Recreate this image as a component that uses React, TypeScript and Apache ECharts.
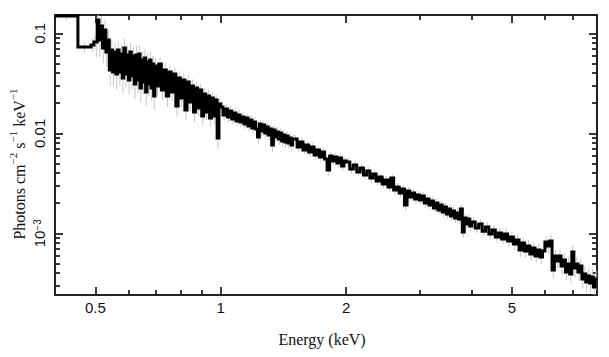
import React, { useEffect, useRef } from 'react';
import * as echarts from 'echarts';

// Bin edges (keV)
const binEdges = [
  0.4, 0.454, 0.488, 0.496,
  0.5, 0.505, 0.51, 0.515, 0.52, 0.525, 0.53, 0.535, 0.54, 0.545, 0.55, 0.555, 0.56, 0.565, 0.57, 0.575,
  0.58, 0.585, 0.59, 0.595, 0.6, 0.605, 0.61, 0.615, 0.62, 0.625, 0.63, 0.635, 0.64, 0.645, 0.65, 0.655,
  0.66, 0.665, 0.67, 0.675, 0.68, 0.685, 0.69, 0.695,
  0.7, 0.71, 0.72, 0.73, 0.74, 0.75, 0.76, 0.77, 0.78, 0.79, 0.8, 0.81, 0.82, 0.83, 0.84, 0.85, 0.86,
  0.87, 0.88, 0.89, 0.9, 0.91, 0.92, 0.93, 0.94, 0.95, 0.96, 0.97, 0.98, 0.99,
  1.0, 1.0125, 1.025, 1.0375, 1.05, 1.0625, 1.075, 1.0875, 1.1, 1.1125, 1.125, 1.1375, 1.15, 1.1625,
  1.175, 1.1875, 1.2, 1.2125, 1.225, 1.2375, 1.25, 1.2625, 1.275, 1.2875, 1.3, 1.3125, 1.325, 1.3375,
  1.35, 1.3625, 1.375, 1.3875, 1.4, 1.4125, 1.425, 1.4375, 1.45, 1.4625, 1.475, 1.4875,
  1.5, 1.525, 1.55, 1.575, 1.6, 1.625, 1.65, 1.675, 1.7, 1.725, 1.75, 1.775, 1.8, 1.825, 1.85, 1.875,
  1.9, 1.925, 1.95, 1.975,
  2.0, 2.04, 2.08, 2.12, 2.16, 2.2, 2.24, 2.28, 2.32, 2.36, 2.4, 2.44, 2.48, 2.52, 2.56, 2.6, 2.64, 2.68,
  2.72, 2.76, 2.8, 2.84, 2.88, 2.92, 2.96, 3.0, 3.04, 3.08, 3.12, 3.16, 3.2, 3.24, 3.28, 3.32, 3.36, 3.4,
  3.44, 3.48, 3.52, 3.56, 3.6, 3.64, 3.68, 3.72, 3.76, 3.8, 3.84, 3.88, 3.92, 3.96,
  4.0, 4.08, 4.16, 4.24, 4.32, 4.4, 4.48, 4.56, 4.64, 4.72, 4.8, 4.88, 4.96, 5.04, 5.12, 5.2, 5.28, 5.36,
  5.44, 5.52, 5.6, 5.68, 5.76, 5.84, 5.92, 6.0, 6.08, 6.16, 6.24, 6.32, 6.4, 6.48, 6.56, 6.64, 6.72, 6.8,
  6.88, 6.96, 7.04, 7.12, 7.2, 7.28, 7.36, 7.44, 7.52, 7.6, 7.68, 7.76, 7.84, 7.92, 8.0,
];

// Photons cm^-2 s^-1 keV^-1 per bin
const flux = [
  0.149, 0.0729, 0.0764, 0.0818,
  // 0.5 - 0.7 keV
  0.0818, 0.1358, 0.0857, 0.1183, 0.0713, 0.1079, 0.065, 0.0857, 0.0429, 0.0681,
  0.041, 0.065, 0.0391, 0.0681, 0.041, 0.0621, 0.0357, 0.0713, 0.0391, 0.0607,
  0.0341, 0.065, 0.0374, 0.0593, 0.0311, 0.0607, 0.0341, 0.0621, 0.0284, 0.0541,
  0.0326, 0.0567, 0.0259, 0.0517, 0.0311, 0.0541, 0.0284, 0.0493, 0.0236, 0.0471,
  // 0.7 - 1.0 keV
  0.0297, 0.0493, 0.0271, 0.0429, 0.0236, 0.041, 0.0259, 0.0391, 0.0188, 0.0357,
  0.0225, 0.0341, 0.0171, 0.0326, 0.0206, 0.0297, 0.0163, 0.0284, 0.0179, 0.0271,
  0.0149, 0.0247, 0.0163, 0.0236, 0.0142, 0.0225, 0.0149, 0.0215, 0.00898, 0.0196,
  // 1.0 - 1.5 keV
  0.01832, 0.01524, 0.0175, 0.01455, 0.01671, 0.0139, 0.01595, 0.01327, 0.01524, 0.01297,
  0.01455, 0.01238, 0.01423, 0.01183, 0.01358, 0.0113, 0.01297, 0.01104, 0.00918, 0.01238,
  0.01054, 0.0121, 0.01007, 0.01156, 0.00961, 0.01104, 0.00764, 0.01079, 0.00918, 0.0103,
  0.00877, 0.01007, 0.00837, 0.00961, 0.00818, 0.0094, 0.008, 0.00898, 0.00764, 0.00877,
  // 1.5 - 2.0 keV
  0.00877, 0.00729, 0.00818, 0.00681, 0.00764, 0.0065, 0.00729, 0.00607, 0.00681, 0.0058,
  0.0065, 0.00554, 0.00429, 0.00593, 0.00529, 0.0058, 0.00505, 0.00567, 0.00471, 0.00529,
  // 2.0 - 4.0 keV
  0.00517, 0.0044, 0.00482, 0.0041, 0.0045, 0.00382, 0.00419, 0.00357, 0.00391, 0.00333,
  0.00365, 0.00311, 0.00341, 0.0029, 0.00357, 0.00271, 0.0029, 0.00253, 0.00277, 0.00192,
  0.00265, 0.00231, 0.00253, 0.0022, 0.00241, 0.00215, 0.00236, 0.00201, 0.0022, 0.00192,
  0.0021, 0.00179, 0.00201, 0.00171, 0.00192, 0.00163, 0.00183, 0.00156, 0.00175, 0.00149,
  0.00167, 0.00142, 0.0016, 0.00139, 0.00175, 0.00103, 0.00142, 0.00124, 0.00139, 0.00118,
  // 4.0 - 8.0 keV
  0.0013, 0.00113, 0.00124, 0.00105, 0.001156, 0.000984, 0.001079, 0.000918, 0.001007, 0.000877,
  0.000984, 0.000837, 0.000918, 0.000782, 0.000857, 0.000681, 0.0008, 0.000665, 0.000746, 0.000621,
  0.000713, 0.000593, 0.000681, 0.00058, 0.000665, 0.000818, 0.000746, 0.000837, 0.000429, 0.000593,
  0.000529, 0.000593, 0.000471, 0.000541, 0.00041, 0.000493, 0.000391, 0.00065, 0.00045, 0.000493,
  0.00041, 0.000471, 0.000349, 0.000391, 0.000326, 0.000374, 0.000318, 0.000365, 0.00029, 0.000349,
];

// fractional 1-sigma errors per bin
const fracErr = [
  0.1, 0.12, 0.15, 0.15,
  0.3, 0.28, 0.32, 0.26, 0.3, 0.27, 0.29, 0.25, 0.31, 0.26,
  0.28, 0.25, 0.3, 0.24, 0.27, 0.25, 0.29, 0.23, 0.27, 0.24,
  0.28, 0.23, 0.26, 0.24, 0.29, 0.23, 0.26, 0.22, 0.28, 0.23,
  0.25, 0.22, 0.27, 0.22, 0.25, 0.22, 0.26, 0.21, 0.27, 0.22,
  0.2, 0.18, 0.21, 0.18, 0.22, 0.17, 0.2, 0.17, 0.22, 0.17,
  0.19, 0.16, 0.21, 0.16, 0.19, 0.16, 0.2, 0.15, 0.18, 0.15,
  0.19, 0.15, 0.17, 0.15, 0.18, 0.14, 0.17, 0.14, 0.22, 0.14,
  0.13, 0.12, 0.14, 0.12, 0.13, 0.12, 0.13, 0.11, 0.13, 0.12,
  0.13, 0.11, 0.12, 0.11, 0.12, 0.11, 0.12, 0.11, 0.14, 0.11,
  0.12, 0.11, 0.12, 0.11, 0.12, 0.11, 0.14, 0.11, 0.12, 0.11,
  0.12, 0.11, 0.12, 0.11, 0.12, 0.11, 0.12, 0.11, 0.12, 0.11,
  0.1, 0.1, 0.1, 0.1, 0.1, 0.1, 0.1, 0.1, 0.1, 0.1,
  0.1, 0.1, 0.12, 0.1, 0.1, 0.1, 0.1, 0.1, 0.1, 0.1,
  0.1, 0.1, 0.1, 0.1, 0.1, 0.1, 0.1, 0.1, 0.1, 0.1,
  0.1, 0.1, 0.1, 0.1, 0.1, 0.1, 0.1, 0.1, 0.1, 0.12,
  0.1, 0.1, 0.1, 0.1, 0.1, 0.1, 0.1, 0.1, 0.1, 0.1,
  0.1, 0.1, 0.1, 0.1, 0.1, 0.11, 0.1, 0.11, 0.1, 0.11,
  0.11, 0.11, 0.11, 0.11, 0.11, 0.13, 0.11, 0.11, 0.11, 0.11,
  0.11, 0.11, 0.11, 0.11, 0.12, 0.12, 0.12, 0.12, 0.12, 0.12,
  0.13, 0.13, 0.13, 0.13, 0.13, 0.14, 0.14, 0.14, 0.14, 0.14,
  0.15, 0.15, 0.15, 0.15, 0.15, 0.15, 0.16, 0.16, 0.17, 0.16,
  0.17, 0.17, 0.18, 0.17, 0.18, 0.18, 0.19, 0.17, 0.19, 0.19,
  0.19, 0.19, 0.2, 0.2, 0.21, 0.2, 0.21, 0.21, 0.22, 0.22,
];

const xRange = [0.4, 8];
const yRange = [2.415e-4, 0.1524];
const xMajorTicks = [0.5, 1, 2, 5];
const xMinorTicks = [0.6, 0.7, 0.8, 0.9, 3, 4, 6, 7];
const yMajorTicks = [0.1, 0.01, 0.001];
const yMinorTicks = [
  0.0003, 0.0004, 0.0005, 0.0006, 0.0007, 0.0008, 0.0009,
  0.002, 0.003, 0.004, 0.005, 0.006, 0.007, 0.008, 0.009,
  0.02, 0.03, 0.04, 0.05, 0.06, 0.07, 0.08, 0.09,
];
const xTitle = 'Energy (keV)';
const yTitleRich = '{t|Photons cm}{s|−2}{t| s}{s|−1}{t| keV}{s|−1}';

const L = Math.log10;
const FRAME = '#222';
const SANS = '"Liberation Sans", Arial, sans-serif';
const SERIF = '"Liberation Serif", "Times New Roman", serif';
const MAJOR_LEN = 8;
const MINOR_LEN = 5;

function fmtX(v: number) {
  return String(Number(Math.pow(10, v).toPrecision(6)));
}
function fmtY(v: number) {
  if (Math.abs(v + 3) < 1e-6) return '{b|10}{s|−3}';
  return String(Number(Math.pow(10, v).toPrecision(6)));
}

export default function App() {
  const ref = useRef<HTMLDivElement>(null);
  useEffect(() => {
    if (!ref.current) return;
    const chart = echarts.init(ref.current, undefined, { renderer: 'svg' });
    const n = Math.min(flux.length, binEdges.length - 1);
    const stepData: number[][] = [];
    const errData: number[][] = [];
    for (let i = 0; i < n; i++) {
      const lo = L(binEdges[i]);
      const hi = L(binEdges[i + 1]);
      const lv = L(flux[i]);
      stepData.push([lo, lv], [hi, lv]);
      const e = fracErr[i] ?? 0.12;
      errData.push([(lo + hi) / 2, L(flux[i] * (1 - e)), L(flux[i] * (1 + e))]);
    }
    const xMin = L(xRange[0]);
    const xMax = L(xRange[1]);
    const yMin = L(yRange[0]);
    const yMax = L(yRange[1]);

    const tickLine = { color: FRAME, width: 1.8 };
    // every side: a major-tick axis (carrying the frame line) and a minor-tick axis
    const xAxisOf = (position: string, ticks: number[], len: number, frame: boolean, labels: boolean) => ({
      type: 'value',
      position,
      min: xMin,
      max: xMax,
      axisLine: { show: frame, onZero: false, lineStyle: { color: FRAME, width: 2 } },
      axisTick: { show: true, inside: true, length: len, customValues: ticks.map(L), lineStyle: tickLine },
      axisLabel: labels
        ? { show: true, customValues: ticks.map(L), formatter: fmtX, margin: 5, fontFamily: SANS, fontSize: 15, color: '#111' }
        : { show: false },
      splitLine: { show: false },
    });
    const yAxisOf = (position: string, ticks: number[], len: number, frame: boolean, labels: boolean) => ({
      type: 'value',
      position,
      min: yMin,
      max: yMax,
      axisLine: { show: frame, onZero: false, lineStyle: { color: FRAME, width: 2 } },
      axisTick: { show: true, inside: true, length: len, customValues: ticks.map(L), lineStyle: tickLine },
      axisLabel: labels
        ? {
            show: true,
            customValues: ticks.map(L),
            formatter: fmtY,
            rotate: 90,
            margin: 8,
            fontFamily: SANS,
            fontSize: 15,
            color: '#111',
            rich: {
              b: { fontFamily: SANS, fontSize: 15, color: '#111' },
              s: { fontFamily: SANS, fontSize: 10, color: '#111', verticalAlign: 'top' },
            },
          }
        : { show: false },
      splitLine: { show: false },
    });

    chart.setOption({
      animation: false,
      backgroundColor: '#fff',
      grid: { left: 55, top: 15, width: 542, height: 280, containLabel: false, outerBoundsMode: 'none' },
      xAxis: [
        xAxisOf('bottom', xMajorTicks, MAJOR_LEN, true, true),
        xAxisOf('bottom', xMinorTicks, MINOR_LEN, false, false),
        xAxisOf('top', xMajorTicks, MAJOR_LEN, true, false),
        xAxisOf('top', xMinorTicks, MINOR_LEN, false, false),
      ],
      yAxis: [
        yAxisOf('left', yMajorTicks, MAJOR_LEN, true, true),
        yAxisOf('left', yMinorTicks, MINOR_LEN, false, false),
        yAxisOf('right', yMajorTicks, MAJOR_LEN, true, false),
        yAxisOf('right', yMinorTicks, MINOR_LEN, false, false),
      ],
      graphic: [
        {
          type: 'text',
          x: 322,
          y: 339,
          style: {
            text: xTitle,
            fontFamily: SERIF,
            fontSize: 16,
            fill: '#111',
            align: 'center',
            verticalAlign: 'middle',
          },
        },
        {
          type: 'text',
          x: 17,
          y: 164,
          rotation: Math.PI / 2,
          style: {
            text: yTitleRich,
            fontFamily: SERIF,
            fontSize: 16,
            fill: '#111',
            align: 'center',
            verticalAlign: 'middle',
            rich: {
              t: { fontFamily: SERIF, fontSize: 16, fill: '#111', lineHeight: 20, verticalAlign: 'bottom' },
              s: { fontFamily: SERIF, fontSize: 11, fill: '#111', lineHeight: 20, verticalAlign: 'top' },
            },
          },
        },
      ],
      series: [
        {
          type: 'custom',
          xAxisIndex: 0,
          yAxisIndex: 0,
          clip: true,
          z: 1,
          silent: true,
          renderItem: (_params: any, api: any) => {
            const p1 = api.coord([api.value(0), api.value(1)]);
            const p2 = api.coord([api.value(0), api.value(2)]);
            return {
              type: 'line',
              shape: { x1: p1[0], y1: p1[1], x2: p2[0], y2: p2[1] },
              style: { stroke: '#c6c6c6', lineWidth: 1 },
            };
          },
          encode: { x: 0, y: [1, 2] },
          data: errData,
        },
        {
          type: 'line',
          xAxisIndex: 0,
          yAxisIndex: 0,
          data: stepData,
          showSymbol: false,
          symbol: 'none',
          clip: true,
          z: 2,
          silent: true,
          lineStyle: { color: '#000', width: 3, join: 'miter' },
        },
      ],
    });

    return () => chart.dispose();
  }, []);
  return (
    <div
      ref={ref}
      style={{ position: 'fixed', left: 0, top: 0, width: 609, height: 357, background: '#fff' }}
    />
  );
}
